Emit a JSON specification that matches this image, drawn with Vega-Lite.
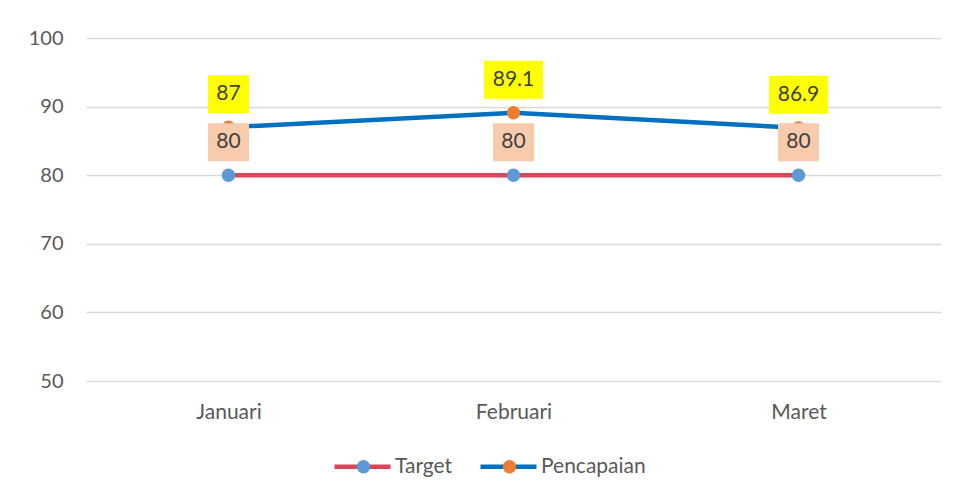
{
  "$schema": "https://vega.github.io/schema/vega-lite/v6.json",
  "width": 855,
  "height": 343,
  "autosize": {"type": "none"},
  "padding": {"left": 86, "top": 38, "right": 16, "bottom": 118},
  "background": "white",
  "config": {"view": {"stroke": null}, "font": "Lato"},
  "data": {
    "values": [
      {"bulan": "Januari", "series": "Target", "value": 80},
      {"bulan": "Februari", "series": "Target", "value": 80},
      {"bulan": "Maret", "series": "Target", "value": 80},
      {"bulan": "Januari", "series": "Pencapaian", "value": 87},
      {"bulan": "Februari", "series": "Pencapaian", "value": 89.1},
      {"bulan": "Maret", "series": "Pencapaian", "value": 86.9}
    ]
  },
  "encoding": {
    "x": {
      "field": "bulan",
      "type": "nominal",
      "sort": ["Januari", "Februari", "Maret"],
      "axis": {
        "title": null,
        "domain": false,
        "ticks": false,
        "labelAngle": 0,
        "labelFontSize": 21,
        "labelColor": "#595959",
        "labelPadding": 20
      }
    },
    "y": {
      "field": "value",
      "type": "quantitative",
      "scale": {"domain": [50, 100], "nice": false, "zero": false},
      "axis": {
        "title": null,
        "values": [50, 60, 70, 80, 90, 100],
        "grid": true,
        "gridColor": "#D9D9D9",
        "gridWidth": 1.5,
        "domain": false,
        "ticks": false,
        "labelFontSize": 20,
        "labelColor": "#595959",
        "labelPadding": 23
      }
    }
  },
  "layer": [
    {
      "mark": {"type": "line", "strokeWidth": 4.5},
      "encoding": {
        "color": {
          "field": "series",
          "type": "nominal",
          "sort": ["Target", "Pencapaian"],
          "scale": {"range": ["#D9475A", "#0070C0"]},
          "legend": {
            "title": null,
            "orient": "none",
            "direction": "horizontal",
            "legendX": 246,
            "legendY": 398,
            "symbolType": "stroke",
            "symbolSize": 3136,
            "symbolStrokeWidth": 4.5,
            "labelFontSize": 21,
            "labelColor": "#595959",
            "labelOffset": 2,
            "columnPadding": 18
          }
        }
      }
    },
    {
      "mark": {"type": "point", "filled": true, "size": 180, "opacity": 1, "strokeWidth": 0},
      "encoding": {
        "fill": {
          "field": "series",
          "type": "nominal",
          "scale": {"domain": ["Target", "Pencapaian"], "range": ["#5B9BD5", "#ED7D31"]},
          "legend": {
            "title": null,
            "orient": "none",
            "direction": "horizontal",
            "legendX": 267,
            "legendY": 418,
            "symbolType": "circle",
            "symbolSize": 180,
            "symbolStrokeWidth": 0,
            "symbolOpacity": 1,
            "labelExpr": "''",
            "labelFontSize": 21,
            "labelOffset": 26,
            "columnPadding": 99
          }
        }
      }
    },
    {
      "transform": [{"filter": "datum.value % 1 == 0"}],
      "mark": {
        "type": "point",
        "shape": "M-1,-0.927L1,-0.927L1,0.927L-1,0.927Z",
        "size": 1681,
        "filled": true,
        "opacity": 1,
        "strokeWidth": 0,
        "yOffset": -33
      },
      "encoding": {
        "fill": {"condition": {"test": "datum.series == 'Target'", "value": "#F8CBAD"}, "value": "#FFFF00"}
      }
    },
    {
      "transform": [{"filter": "datum.value % 1 != 0"}],
      "mark": {
        "type": "point",
        "shape": "M-1,-0.644L1,-0.644L1,0.644L-1,0.644Z",
        "size": 3481,
        "filled": true,
        "opacity": 1,
        "strokeWidth": 0,
        "yOffset": -33,
        "fill": "#FFFF00"
      }
    },
    {
      "mark": {"type": "text", "fontSize": 21, "color": "#404040", "baseline": "middle", "yOffset": -33},
      "encoding": {"text": {"field": "value", "type": "nominal"}}
    }
  ]
}
